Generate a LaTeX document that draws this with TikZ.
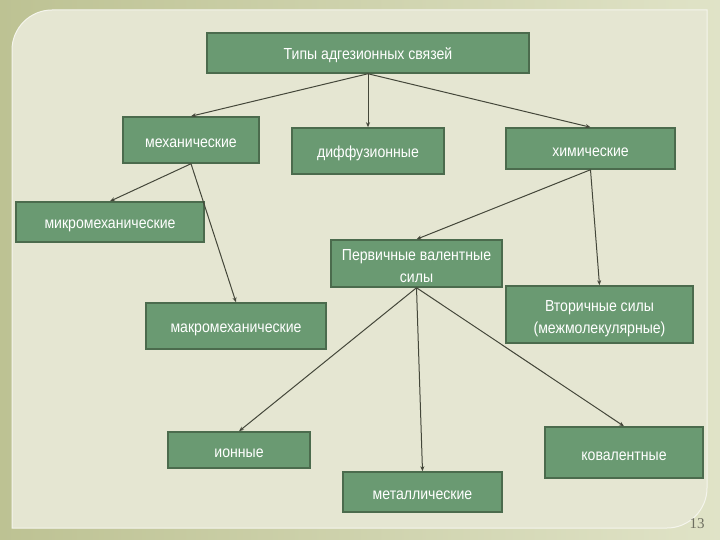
\documentclass[tikz,border=0pt]{standalone}
\usepackage{fontspec}
\setmainfont[FakeStretch=0.88]{Liberation Sans}
\newfontfamily\numfont{Liberation Serif}
\usetikzlibrary{arrows.meta}
\definecolor{boxfill}{HTML}{6A9A72}
\definecolor{boxline}{HTML}{4B6B4D}
\definecolor{linec}{HTML}{44473A}
\definecolor{panelc}{HTML}{E5E6D2}
\definecolor{outerl}{HTML}{BDC293}
\definecolor{outerr}{HTML}{E0E3C7}
\definecolor{numc}{HTML}{6E6E60}
\tikzset{
  boxbase/.style={draw=boxline, line width=1.5pt, fill=boxfill, inner sep=2pt},
  box/.style={boxbase, text=white, align=center, text height=15.5pt,
    font=\fontsize{16}{21.5}\selectfont},
  boxtext/.style={text=white, align=center, inner sep=0pt,
    font=\fontsize{16}{21.5}\selectfont},
  conn/.style={draw=linec, line width=1pt, -{Stealth[length=5pt,width=4pt]}}
}
\begin{document}
\begin{tikzpicture}[x=1pt,y=-1pt]
\useasboundingbox (0,0) rectangle (720,540);
\shade[left color=outerl, right color=outerr] (0,0) rectangle (720,540);
\fill[panelc, draw=white!60!panelc, line width=1pt]
  (12,528) -- (12,50) .. controls (12,28) and (30,10) .. (52,10)
  -- (707,10) -- (707,488) .. controls (707,510) and (689,528) .. (667,528) -- cycle;

\node[box, minimum width=322pt, minimum height=40pt] (title) at (368,53) {Типы адгезионных связей};
\node[box, minimum width=136pt, minimum height=46pt] (mech) at (191,140) {механические};
\node[box, minimum width=152pt, minimum height=46pt] (diff) at (368,151) {диффузионные};
\node[box, minimum width=169pt, minimum height=41pt] (chem) at (590.5,148.5) {химические};
\node[box, minimum width=188pt, minimum height=40pt] (micro) at (110,222) {микромеханические};
\node[boxbase, minimum width=171pt, minimum height=47pt] (perv) at (416.5,263.5) {};
\node[boxtext] (pervt) at ([yshift=-2.5pt]perv.center) {Первичные валентные\\силы};
\node[box, minimum width=180pt, minimum height=46pt] (macro) at (236,326) {макромеханические};
\node[boxbase, minimum width=187pt, minimum height=57pt] (vtor) at (599.5,314.5) {};
\node[boxtext] (vtort) at ([yshift=-4pt]vtor.center) {Вторичные силы\\(межмолекулярные)};
\node[box, minimum width=142pt, minimum height=36pt] (ion) at (239,450) {ионные};
\node[box, minimum width=158pt, minimum height=51pt] (koval) at (624,452.5) {ковалентные};
\node[box, minimum width=159pt, minimum height=40pt] (metal) at (422.5,492) {металлические};

\node[text=numc, font=\numfont\fontsize{15}{18}\selectfont] (num) at (697,524) {13};

\draw[conn] (title.south) -- (mech.north);
\draw[conn] (title.south) -- (diff.north);
\draw[conn] (title.south) -- (chem.north);
\draw[conn] (mech.south) -- (micro.north);
\draw[conn] (mech.south) -- (macro.north);
\draw[conn] (chem.south) -- (perv.north);
\draw[conn] (chem.south) -- (vtor.north);
\draw[conn] (perv.south) -- (ion.north);
\draw[conn] (perv.south) -- (metal.north);
\draw[conn] (perv.south) -- (koval.north);
\end{tikzpicture}
\end{document}
